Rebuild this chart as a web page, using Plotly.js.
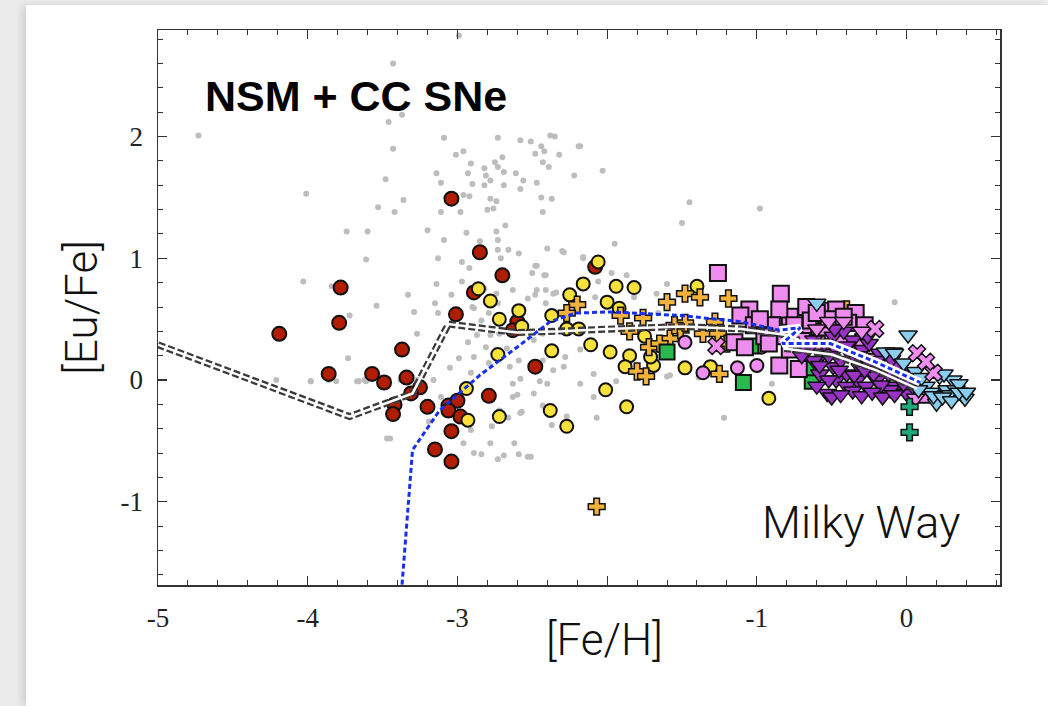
<!DOCTYPE html>
<html>
<head>
<meta charset="utf-8">
<script src="https://cdn.plot.ly/plotly-3.0.1.min.js"></script>
<style>
html,body{margin:0;padding:0;width:1048px;height:706px;overflow:hidden;background:#ececec;}
#bg{position:absolute;left:26px;top:5px;right:0;bottom:0;background:#fff;box-shadow:-4px 0 8px rgba(0,0,0,0.12);}
#chart{position:absolute;left:0;top:0;width:1048px;height:706px;}
</style>
</head>
<body>
<div id="bg"></div>
<div id="chart"></div>
<script>
// ---- Data ----
var grayX = [-2.99,-3.43,-3.46,-3.37,-3.43,-4.73,-4.01,-3.48,-3.53,-3.42,-3.36,-3.74,-3.60,-3.61,-4.03,-3.84,-3.72,-3.54,-3.33,-3.29,
  -3.20,-3.14,-3.11,-3.09,-3.01,-2.96,-2.91,-2.93,-2.90,-2.96,-2.92,-3.11,-2.98,-3.09,-3.13,-2.97,-2.94,-2.92,-2.97,-3.14,
  -3.04,-3.15,-3.13,-2.82,-2.75,-2.70,-2.69,-2.81,-2.78,-2.82,-2.69,-2.73,-2.61,-2.56,-2.58,-2.73,-2.58,-2.51,-2.44,-2.42,
  -2.48,-2.38,-2.35,-2.32,-2.43,-2.39,-2.18,-2.22,-2.47,-2.78,-2.74,-2.76,-2.80,-2.68,-2.74,-2.73,-2.73,-2.66,-2.59,-2.71,
  -2.44,-2.37,-2.43,-2.40,-2.30,-2.16,-2.48,-2.50,-2.42,-2.47,-2.34,-2.48,-2.53,-2.63,-2.74,-2.73,-2.79,-2.08,-2.90,-2.85,
  -3.73,-3.27,-3.98,-3.84,-3.66,-3.62,-3.46,-3.38,-3.27,-3.16,-3.11,-3.45,-3.19,-2.96,-2.89,-2.78,-2.69,-2.59,-2.51,-2.91,
  -2.77,-2.66,-2.58,-2.63,-2.60,-2.72,-3.05,-2.99,-2.89,-2.93,-2.87,-2.81,-2.79,-2.91,-2.89,-2.84,-2.78,-2.72,-2.67,-2.59,
  -2.65,-2.58,-2.63,-2.49,-2.43,-2.45,-2.40,-2.49,-2.57,-2.43,-2.37,-2.47,-2.41,-2.36,-2.41,-2.82,-2.41,-2.16,-1.97,-2.06,
  -1.87,-1.60,-1.67,-2.29,-2.43,-2.36,-2.45,-2.36,-2.29,-2.18,-2.09,-1.94,-2.28,-2.18,-1.60,-2.07,-2.27,-1.95,-1.82,-1.66,
  -0.08,-1.58,-1.22,-0.90,-1.39,-2.09,-1.45,-0.98,-1.50,-2.03,-2.19,-4.21,-3.98,-3.86,-3.81,-3.67,-3.61,-2.73,-2.53,-2.84,-2.62,-3.47];
var grayY = [2.83,2.60,2.12,2.18,1.90,2.01,1.53,1.65,1.42,1.38,1.48,1.22,1.22,0.99,0.81,0.77,0.53,0.61,0.70,0.56,
  1.23,1.70,1.62,1.99,1.85,1.88,1.78,1.70,1.61,1.52,1.51,1.38,1.38,1.15,1.00,0.97,1.21,0.92,0.81,0.79,
  0.70,0.63,0.55,1.74,1.79,1.83,1.71,1.68,1.64,1.60,1.60,1.75,1.70,1.64,1.57,1.99,1.97,1.96,1.92,1.88,
  1.86,2.01,2.00,1.85,1.79,1.75,1.92,1.68,1.62,1.49,1.47,1.41,1.40,1.27,1.22,1.15,1.07,1.07,1.04,1.00,
  1.50,1.49,1.38,1.08,1.06,1.00,0.94,0.88,0.86,0.74,0.72,0.70,0.67,0.74,0.71,0.63,0.55,0.68,0.60,1.14,
  0.18,0.38,-0.01,0.01,-0.01,0.00,0.01,0.00,0.00,0.00,-0.14,-0.48,-0.34,-0.52,-0.60,-0.52,-0.62,-0.61,-0.63,-0.41,
  -0.38,-0.31,-0.27,-0.14,-0.12,-0.25,0.10,0.18,0.19,0.31,0.37,0.27,0.14,0.06,0.59,0.49,0.37,0.38,0.26,0.16,
  0.11,0.01,-0.03,0.33,0.16,-0.01,-0.03,-0.11,-0.26,-0.21,-0.37,0.94,0.86,0.71,0.63,0.75,0.74,1.01,0.88,0.81,
  0.86,0.79,0.71,1.05,0.38,0.40,0.14,0.08,0.11,-0.03,0.05,-0.01,0.19,0.25,0.03,-0.31,-0.30,1.12,0.68,0.55,
  0.64,0.04,-0.31,-0.03,0.02,-0.14,1.46,1.41,1.29,1.72,1.92,0.00,-0.01,0.00,-0.01,-0.01,-0.01,-0.65,-0.63,-0.61,-0.52,-0.48];

var redX = [-3.04,-2.85,-2.70,-2.89,-3.78,-3.01,-2.08,-3.79,-4.19,-3.37,-3.86,-3.57,-3.49,-3.34,-3.25,-3.31,-3.42,-3.43,-3.20,-3.06,
  -3.00,-3.06,-2.98,-3.04,-3.15,-3.04,-2.79,-2.48,-2.60,-2.63];
var redY = [1.49,1.05,0.86,0.72,0.76,0.54,0.93,0.47,0.38,0.25,0.05,0.05,-0.02,0.02,-0.06,-0.11,-0.20,-0.28,-0.22,-0.21,
  -0.17,-0.25,-0.30,-0.42,-0.57,-0.67,-0.13,0.11,0.48,0.41];

var yellowX = [-2.86,-2.78,-2.59,-2.72,-2.37,-2.25,-2.16,-2.06,-2.57,-2.73,-2.37,-2.11,-2.27,-2.19,-2.94,-2.93,-2.72,-2.38,-2.27,-1.94,
  -1.82,-2.00,-1.92,-1.98,-1.85,-1.75,-1.88,-1.69,-1.71,-1.48,-1.40,-2.01,-1.87,-1.31,-0.92];
var yellowY = [0.75,0.65,0.57,0.50,0.53,0.70,0.79,0.97,0.44,0.21,0.24,0.29,0.42,0.42,-0.07,-0.33,-0.30,-0.25,-0.38,0.77,
  0.76,0.64,0.59,0.23,0.20,0.36,0.11,0.12,0.19,0.10,0.77,-0.08,-0.22,0.11,-0.15];

var orangeX = [-2.20,-2.27,-1.60,-1.48,-1.38,-1.19,-1.91,-1.76,-1.85,-1.72,-1.80,-1.74,-1.58,-1.51,-1.48,-1.36,-1.28,-1.25,-1.26,-0.40,
  -2.07,-1.65,-1.55,-1.20];
var orangeY = [0.62,0.55,0.64,0.71,0.68,0.67,0.53,0.51,0.40,0.27,0.07,0.03,0.34,0.41,0.47,0.38,0.48,0.05,0.38,0.58,
  -1.04,0.30,0.45,0.30];

var pinkCircX = [-1.48,-1.36,-1.13,-1.00,-0.97];
var pinkCircY = [0.31,0.06,0.10,0.12,0.27];

var greenSqX = [-1.60,-1.09,-0.63,-1.04,-0.65];
var greenSqY = [0.23,-0.02,-0.01,0.28,0.10];

var greenCrossX = [0.02,0.02];
var greenCrossY = [-0.22,-0.43];

var pinkSqX = [-1.26,-0.84,-0.67,-0.78,-0.85,-1.05,-1.11,-0.56,-0.47,-1.15,-1.08,-0.85,-0.72,-0.65,-0.35,-0.29,-0.81,0.11,-0.78,-0.69,
  -0.64,-1.02,-0.34,-0.39,-0.55,-0.45,-0.20,-0.60,-0.90,-0.95,-0.75,-0.52,-0.60,-0.42,-0.28,-0.70,-0.92,-0.98];
var pinkSqY = [0.88,0.71,0.60,0.52,0.58,0.58,0.53,0.57,0.58,0.31,0.27,0.12,0.09,0.44,0.47,0.31,0.36,-0.12,0.25,0.41,
  0.49,0.45,0.55,0.47,0.40,0.30,0.15,0.30,0.45,0.36,0.45,0.50,0.55,0.52,0.45,0.32,0.30,0.50];

var purpleTriX = [-0.53,-0.47,-0.40,-0.33,-0.27,-0.20,-0.13,-0.07,0.00,-0.58,-0.49,-0.40,-0.31,-0.22,-0.56,-0.47,-0.38,-0.29,-0.18,-0.09,
  -0.62,-0.49,-0.36,-0.62,0.04,-0.04,-0.44,-0.33,-0.24,-0.15,-0.11,-0.55,-0.42,-0.25,-0.52,-0.36,-0.17,-0.06,
  -0.50,-0.44,-0.30,-0.23,-0.16,-0.08,-0.60,-0.45,-0.35,-0.28,-0.12,-0.02,-0.58,-0.52,-0.40,-0.32,-0.20,-0.10,-0.66,-0.70,-0.48,-0.26];
var purpleTriY = [-0.11,0.00,-0.05,0.00,-0.05,0.00,-0.08,-0.05,-0.11,0.05,0.11,0.05,0.10,0.05,0.22,0.25,0.22,0.25,0.22,0.23,
  0.33,0.36,0.33,0.16,-0.05,0.05,0.16,0.16,0.13,0.10,-0.08,0.30,0.40,0.30,0.00,-0.09,-0.04,0.12,
  -0.14,-0.12,-0.13,-0.10,-0.14,-0.12,-0.05,0.08,0.04,0.08,0.05,-0.03,0.12,0.20,0.28,0.20,0.16,0.17,0.25,0.20,0.42,0.36];

var pinkTriX = [-0.52,-0.42,-0.30,-0.60,0.06];
var pinkTriY = [0.48,0.48,0.40,0.42,-0.15];

var blueTriX = [0.01,-0.14,-0.08,-0.02,0.06,0.13,0.20,0.22,0.27,0.31,0.33,0.37,0.39,0.28,0.16,-0.60,0.10,0.35,
  0.18,0.24,0.30,0.35,0.08,0.40,0.25];
var blueTriY = [0.37,0.23,0.22,0.14,0.07,-0.05,-0.19,0.03,-0.08,0.00,-0.08,-0.12,-0.15,-0.12,-0.10,0.63,0.02,-0.03,
  -0.13,-0.14,-0.17,-0.10,-0.08,-0.10,0.05];

var pinkXX = [-1.27,-0.21,0.07,0.18,0.13];
var pinkXY = [0.28,0.42,0.22,0.06,0.15];

// model tracks
var modelGrayX = [-5.00,-3.72,-3.30,-3.06,-2.60,-2.30,-2.00,-1.50,-1.10,-0.80,-0.72,-0.82,-0.50,-0.20,0.07];
var modelGrayY = [0.29,-0.30,-0.11,0.46,0.39,0.40,0.42,0.44,0.42,0.37,0.33,0.26,0.21,0.08,-0.07];
var modelBlueX = [-3.37,-3.30,-3.12,-2.85,-2.58,-2.38,-2.21,-1.98,-1.51,-1.11,-0.85,-0.71,-0.83,-0.51,-0.21,0.09];
var modelBlueY = [-1.68,-0.575,-0.25,0.04,0.29,0.48,0.55,0.56,0.53,0.48,0.41,0.43,0.30,0.30,0.15,-0.02];
var blueHaloStart = 10;

var xTickVals = [-5,-4,-3,-2,-1,0];
var xTickText = ['-5','-4','-3','','-1','0'];
var yTickVals = [-1,0,1,2];
var yTickText = ['-1','0','1','2'];

// ---- Traces ----
var OUT = '#111';
function pts(x, y, sym, color, size, lw) {
  return {type:'scatter', mode:'markers', x:x, y:y, hoverinfo:'skip',
    marker:{symbol:sym, color:color, size:size, line:{color:OUT, width:lw}}};
}
var traces = [
  {type:'scatter', mode:'markers', x:grayX, y:grayY, hoverinfo:'skip',
    marker:{symbol:'circle', color:'#bdbdbd', size:6, line:{width:0}}},
  pts(redX, redY, 'circle', '#b01d00', 14, 2),
  pts(yellowX, yellowY, 'circle', '#f7e13a', 13, 2),
  pts(orangeX, orangeY, 'cross', '#f3b23c', 14, 1.5),
  pts(pinkCircX, pinkCircY, 'circle', '#ee8ff0', 13, 2),
  pts(greenSqX, greenSqY, 'square', '#2bb84c', 15, 2),
  pts(pinkSqX, pinkSqY, 'square', '#ef8cef', 16, 2),
  pts(purpleTriX, purpleTriY, 'triangle-down', '#9a32c6', 16, 1.5),
  pts(pinkTriX, pinkTriY, 'triangle-down', '#ef8cef', 16, 1.5),
  pts(blueTriX, blueTriY, 'triangle-down', '#8bcdee', 16, 1.5),
  pts(pinkXX, pinkXY, 'x', '#ef8cef', 15, 1.5),
  pts(greenCrossX, greenCrossY, 'cross', '#1fa878', 14, 1.5),
  {type:'scatter', mode:'lines', x:modelGrayX, y:modelGrayY, hoverinfo:'skip',
    line:{color:'#3a3a3a', width:7, dash:'7px,3px'}},
  {type:'scatter', mode:'lines', x:modelGrayX, y:modelGrayY, hoverinfo:'skip',
    line:{color:'#ffffff', width:2.5}},
  {type:'scatter', mode:'lines', x:modelBlueX.slice(blueHaloStart), y:modelBlueY.slice(blueHaloStart), hoverinfo:'skip',
    line:{color:'#ffffff', width:8}},
  {type:'scatter', mode:'lines', x:modelBlueX, y:modelBlueY, hoverinfo:'skip',
    line:{color:'#1630f0', width:3, dash:'5px,3px'}}
];

var tickFont = {family:'"Liberation Serif", "Times New Roman", serif', size:27, color:'#222'};
var titleFont = {family:'Roboto, "Liberation Sans", Arial, sans-serif', size:44, color:'#111', weight:300};
var axisCommon = {
  showline:true, linecolor:'#333', linewidth:1.5, mirror:'allticks',
  ticks:'inside', ticklen:9, tickwidth:1.2, tickcolor:'#333',
  showgrid:false, zeroline:false, tickfont:tickFont
};

var layout = {
  width:1048, height:706,
  margin:{l:158, r:48, t:30, b:121},
  paper_bgcolor:'rgba(0,0,0,0)', plot_bgcolor:'#ffffff',
  showlegend:false,
  xaxis: Object.assign({}, axisCommon, {
    range:[-5, 0.624], tickmode:'array', tickvals:xTickVals, ticktext:xTickText,
    ticklabelstandoff:8,
    minor:{ticks:'inside', dtick:0.2, tick0:-5, ticklen:5, tickwidth:1, tickcolor:'#333'},
    title:{text:''}
  }),
  yaxis: Object.assign({}, axisCommon, {
    range:[-1.684, 2.876], tickmode:'array', tickvals:yTickVals, ticktext:yTickText,
    ticklabelstandoff:8,
    minor:{ticks:'inside', dtick:0.2, tick0:0, ticklen:5, tickwidth:1, tickcolor:'#333'},
    title:{text:'[Eu/Fe]', font:titleFont, standoff:9}
  }),
  annotations:[
    {xref:'x', yref:'paper', x:-2.02, y:-0.099, xanchor:'center', yanchor:'middle', showarrow:false,
     text:'[Fe/H]', font:titleFont},
    {xref:'x', yref:'y', x:-4.70, y:2.33, xanchor:'left', yanchor:'middle', showarrow:false,
     text:'<b>NSM + CC SNe</b>', font:{family:'"Liberation Sans", Arial, sans-serif', size:43, color:'#000'}},
    {xref:'x', yref:'y', x:0.37, y:-1.17, xanchor:'right', yanchor:'middle', showarrow:false,
     text:'Milky Way', font:{family:'Roboto, "Liberation Sans", Arial, sans-serif', size:45, color:'#111', weight:300}}
  ]
};

Plotly.newPlot('chart', traces, layout, {displayModeBar:false, staticPlot:true});
</script>
</body>
</html>
